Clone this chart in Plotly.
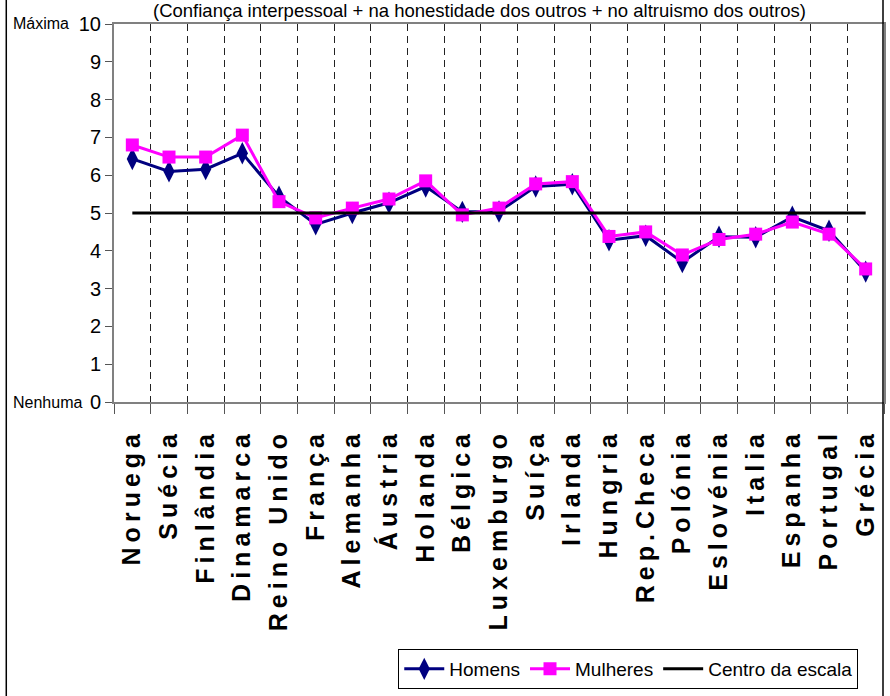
import plotly.graph_objects as go

paises = ["Noruega", "Suécia", "Finlândia", "Dinamarca", "Reino Unido", "França",
          "Alemanha", "Áustria", "Holanda", "Bélgica", "Luxemburgo", "Suíça",
          "Irlanda", "Hungria", "Rep.Checa", "Polónia", "Eslovénia", "Italia",
          "Espanha", "Portugal", "Grécia"]
homens = [6.43, 6.10, 6.16, 6.58, 5.43, 4.70, 5.00, 5.27, 5.70, 5.03, 5.04, 5.70,
          5.76, 4.28, 4.40, 3.70, 4.37, 4.36, 4.90, 4.53, 3.45]
mulheres = [6.80, 6.48, 6.48, 7.06, 5.30, 4.87, 5.13, 5.37, 5.85, 4.95, 5.13, 5.77,
            5.83, 4.38, 4.50, 3.89, 4.30, 4.44, 4.76, 4.44, 3.52]
centro = [5] * len(paises)
y_ticks = list(range(0, 11))
titulo = "(Confiança interpessoal + na honestidade dos outros + no altruismo dos outros)"

SANS = "Liberation Sans, Arial, sans-serif"
labels = ["\u2009".join(p) for p in paises]

fig = go.Figure()
fig.add_trace(go.Scatter(x=labels, y=homens, name="Homens", mode="lines+markers",
                         line=dict(color="#000080", width=3),
                         marker=dict(symbol="diamond-tall", size=16, color="#000080")))
fig.add_trace(go.Scatter(x=labels, y=mulheres, name="Mulheres", mode="lines+markers",
                         line=dict(color="#FF00FF", width=3),
                         marker=dict(symbol="square", size=13, color="#FF00FF")))
fig.add_trace(go.Scatter(x=labels, y=centro, name="Centro da escala", mode="lines",
                         line=dict(color="black", width=3)))

L, R, T, B = 114, 4, 24, 294
W, H = 890, 696
pw, ph = W - L - R, H - T - B

def px_x(X):
    return (X - L) / pw

def px_y(Y):
    return (H - B - Y) / ph

fig.update_layout(
    width=W, height=H,
    margin=dict(l=L, r=R, t=T, b=B, pad=0),
    paper_bgcolor="white", plot_bgcolor="white",
    showlegend=True,
    legend=dict(orientation="h", x=px_x(399), y=px_y(649), xanchor="left", yanchor="top",
                bordercolor="black", borderwidth=1, bgcolor="white",
                font=dict(family=SANS, size=19, color="black"),
                itemwidth=40, tracegroupgap=0),
    xaxis=dict(type="category", range=[-0.5, len(paises) - 0.5],
               tickson="boundaries", ticks="outside", ticklen=10, tickcolor="#555",
               showgrid=True, gridcolor="#222", griddash="7px,5px", gridwidth=1,
               showline=True, linecolor="#808080", linewidth=2, mirror=True,
               tickangle=-90, ticklabelstandoff=20,
               tickfont=dict(family=SANS, size=25, weight="bold", color="black")),
    yaxis=dict(range=[0, 10], tickvals=y_ticks, ticks="outside", ticklen=7,
               tickcolor="#555", showgrid=False, zeroline=False,
               showline=True, linecolor="#808080", linewidth=2, mirror=True,
               tickfont=dict(family=SANS, size=20, color="black")),
    annotations=[
        dict(text=titulo, xref="paper", yref="paper", x=px_x(480), y=px_y(10),
             xanchor="center", yanchor="middle", showarrow=False,
             font=dict(family=SANS, size=18.5, color="black")),
        dict(text="Máxima", xref="paper", yref="paper", x=px_x(11), y=px_y(23),
             xanchor="left", yanchor="middle", showarrow=False,
             font=dict(family=SANS, size=16, color="black")),
        dict(text="Nenhuma", xref="paper", yref="paper", x=px_x(11), y=px_y(402),
             xanchor="left", yanchor="middle", showarrow=False,
             font=dict(family=SANS, size=16, color="black")),
    ],
    shapes=[
        dict(type="rect", xref="paper", yref="paper", x0=px_x(6), x1=px_x(885),
             y0=px_y(720), y1=px_y(-20), line=dict(color="black", width=1.5),
             fillcolor="rgba(0,0,0,0)", layer="above"),
    ],
)

fig.write_html("out.html")
